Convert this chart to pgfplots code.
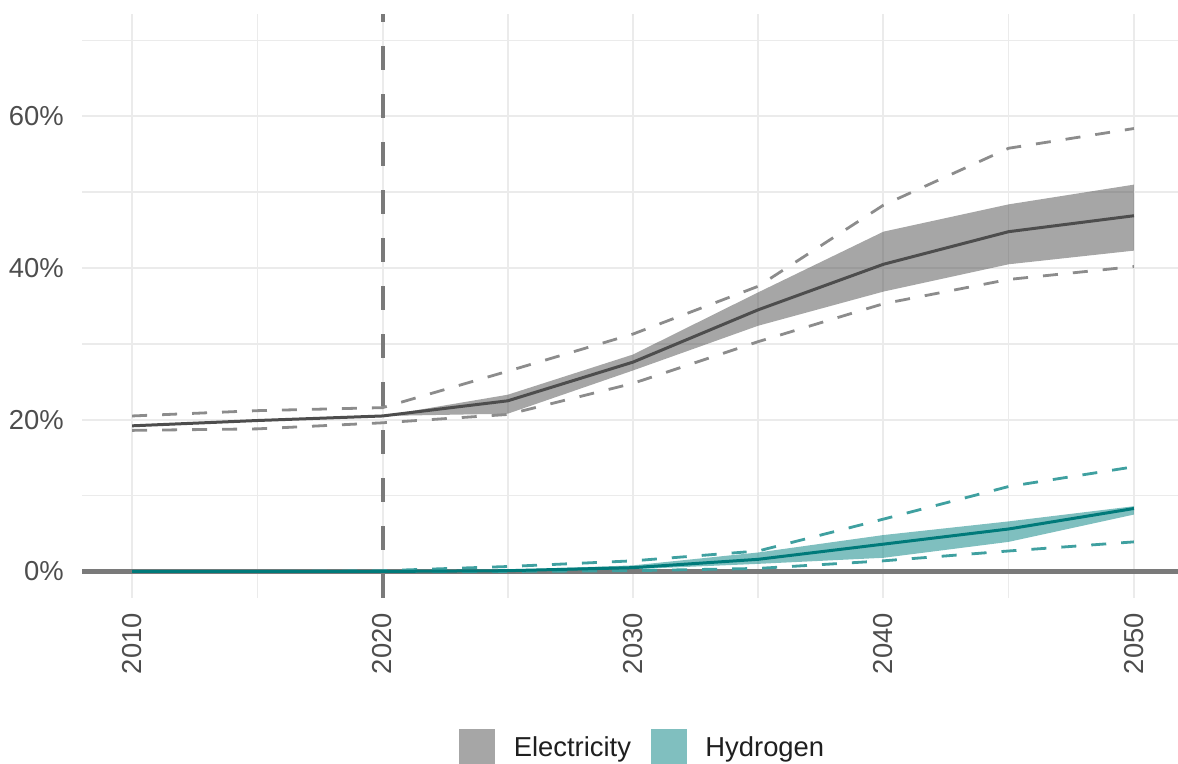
\documentclass[border=0pt]{standalone}
\usepackage{fontspec}
\setmainfont{Liberation Sans}
\usepackage{pgfplots}
\pgfplotsset{compat=1.18}
\definecolor{gridc}{HTML}{EBEBEB}
\definecolor{zeroc}{HTML}{7A7A7A}
\definecolor{elecline}{HTML}{4D4D4D}
\definecolor{elecdash}{HTML}{8C8C8C}
\definecolor{elecrib}{HTML}{4D4D4D}
\definecolor{elecleg}{HTML}{A6A6A6}
\definecolor{hline}{HTML}{007A7A}
\definecolor{hdash}{HTML}{3FA0A0}
\definecolor{hrib}{HTML}{008080}
\definecolor{hleg}{HTML}{80BFBF}
\definecolor{tickc}{HTML}{4D4D4D}
\begin{document}
\begin{tikzpicture}[x=1bp,y=1bp]
\useasboundingbox (0,0) rectangle (1178,764);
\begin{axis}[
  at={(82bp,166bp)}, anchor=south west,
  width=1102bp, height=584bp, scale only axis,
  xmin=2008, xmax=2052, ymin=-3.5, ymax=73.5,
  axis line style={draw=none}, major tick length=0pt, minor tick length=0pt,
  tick style={draw=none},
  xtick={2010,2020,2030,2040,2050}, minor xtick={2015,2025,2035,2045},
  ytick={0,20,40,60}, minor ytick={10,30,50,70},
  yticklabel={\pgfmathprintnumber{\tick}\%},
  grid=both,
  major grid style={gridc, line width=2bp},
  minor grid style={gridc, line width=1.5bp},
  /pgf/number format/1000 sep={},
  /pgf/number format/assume math mode=true,
  ticklabel style={font=\fontsize{27.5}{33}\selectfont, text=tickc},
  xticklabel style={yshift=-15bp, rotate=90, anchor=east, inner sep=0pt},
  yticklabel style={anchor=east, inner sep=0pt, xshift=-18bp},
  legend style={at={(0.508,-0.255)}, anchor=center, draw=none, fill=none,
    inner sep=0pt, outer sep=0pt, legend columns=2,
    font=\fontsize{27.5}{33}\selectfont, text=black!88,
    nodes={inner sep=0pt},
    /tikz/every odd column/.append style={column sep=19bp},
    /tikz/every even column/.append style={column sep=20bp}},
  legend cell align=left,
]
% zero line and 2020 marker
\addplot[forget plot, color=zeroc, line width=4.5bp] coordinates {(2008,0) (2052,0)};
\addplot[forget plot, color=zeroc, line width=4bp, dash pattern=on 24bp off 24bp] coordinates {(2020,-3.5) (2020,73.5)};
% ribbons
\addplot[forget plot, draw=none, fill=elecrib, fill opacity=0.5] coordinates {
 (2020,20.5) (2025,23.3) (2030,28.6) (2035,36.8) (2040,44.8) (2045,48.4) (2050,51.0)
 (2050,42.3) (2045,40.5) (2040,36.9) (2035,32.4) (2030,26.5) (2025,20.8) (2020,20.5)} -- cycle;
\addplot[forget plot, draw=none, fill=hrib, fill opacity=0.5] coordinates {
 (2020,0) (2025,0.2) (2030,0.8) (2035,2.5) (2040,4.8) (2045,6.6) (2050,8.6)
 (2050,7.5) (2045,3.9) (2040,1.8) (2035,1.0) (2030,0.3) (2025,0) (2020,0)} -- cycle;
% dashed ranges
\addplot[forget plot, color=elecdash, line width=2.8bp, dash pattern=on 15bp off 15bp] coordinates {
 (2010,20.5) (2015,21.2) (2020,21.6) (2025,26.4) (2030,31.3) (2035,37.6) (2040,48.3) (2045,55.8) (2050,58.4)};
\addplot[forget plot, color=elecdash, line width=2.8bp, dash pattern=on 15bp off 15bp] coordinates {
 (2010,18.6) (2015,18.8) (2020,19.6) (2025,20.7) (2030,24.8) (2035,30.3) (2040,35.3) (2045,38.5) (2050,40.2)};
\addplot[forget plot, color=hdash, line width=2.8bp, dash pattern=on 15bp off 15bp] coordinates {
 (2010,0) (2015,0) (2020,0.1) (2025,0.65) (2030,1.4) (2035,2.7) (2040,6.9) (2045,11.2) (2050,13.8)};
\addplot[forget plot, color=hdash, line width=2.8bp, dash pattern=on 15bp off 15bp] coordinates {
 (2010,0) (2015,0) (2020,0) (2025,0) (2030,0.1) (2035,0.4) (2040,1.4) (2045,2.7) (2050,3.9)};
% medians
\addplot[forget plot, color=elecline, line width=3bp] coordinates {
 (2010,19.2) (2015,19.9) (2020,20.5) (2025,22.5) (2030,27.6) (2035,34.5) (2040,40.5) (2045,44.8) (2050,46.9)};
\addplot[forget plot, color=hline, line width=3bp] coordinates {
 (2010,0) (2015,0) (2020,0) (2025,0.1) (2030,0.5) (2035,1.6) (2040,3.6) (2045,5.6) (2050,8.3)};
% legend
\addlegendimage{legend image code/.code={\fill[elecleg] (0bp,-17.5bp) rectangle (35bp,17.5bp);}}
\addlegendentry{Electricity}
\addlegendimage{legend image code/.code={\fill[hleg] (0bp,-17.5bp) rectangle (35bp,17.5bp);}}
\addlegendentry{Hydrogen}
\end{axis}
\end{tikzpicture}
\end{document}
